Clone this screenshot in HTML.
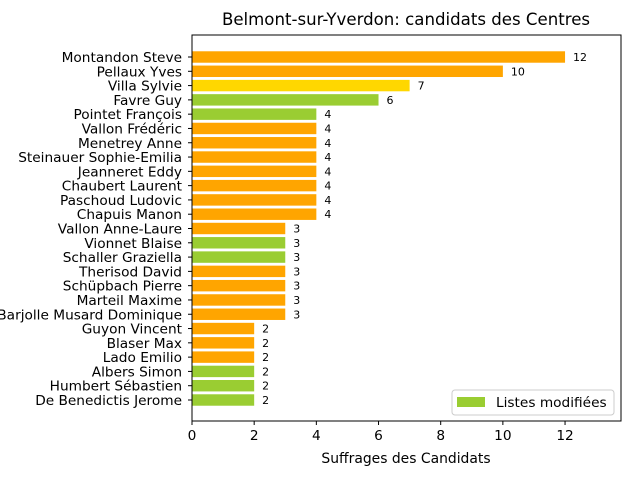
<!DOCTYPE html>
<html><head><meta charset="utf-8"><style>body{margin:0;background:#fff}svg{font-family:"DejaVu Sans","Liberation Sans",sans-serif}</style></head>
<body>
<svg id="c" width="640" height="480" xmlns="http://www.w3.org/2000/svg"></svg>
<script>
const names=["Montandon Steve","Pellaux Yves","Villa Sylvie","Favre Guy","Pointet François","Vallon Frédéric","Menetrey Anne","Steinauer Sophie-Emilia","Jeanneret Eddy","Chaubert Laurent","Paschoud Ludovic","Chapuis Manon","Vallon Anne-Laure","Vionnet Blaise","Schaller Graziella","Therisod David","Schüpbach Pierre","Marteil Maxime","Barjolle Musard Dominique","Guyon Vincent","Blaser Max","Lado Emilio","Albers Simon","Humbert Sébastien","De Benedictis Jerome"];
const votes=[12,10,7,6,4,4,4,4,4,4,4,4,3,3,3,3,3,3,3,2,2,2,2,2,2];
const listType=["o","o","y","g","g","o","o","o","o","o","o","o","o","g","g","o","o","o","o","o","o","o","g","g","g"];
const xTicks=[0,2,4,6,8,10,12];
const colors={o:"#FFA500",y:"#FFD700",g:"#9ACD32"};
const L=192,R=621,T=35,B=421,xmax=Math.max(...votes)*1.15;
const x=v=>L+v/xmax*(R-L);
const step=(B-T-43)/(names.length-1);
const y=i=>T+22+step*i;
const s=document.getElementById('c');const NS="http://www.w3.org/2000/svg";
function el(t,a,txt){const e=document.createElementNS(NS,t);for(const k in a)e.setAttribute(k,a[k]);if(txt!==undefined)e.textContent=txt;s.appendChild(e);return e;}
let t=el('text',{x:406,y:25,'text-anchor':'middle','font-size':16.6},'Belmont-sur-Yverdon: candidats des Centres');


const bh=step*0.8;
names.forEach((n,i)=>{
 const r=el('rect',{x:L,y:y(i)-bh/2,width:x(votes[i])-L,height:bh,fill:colors[listType[i]]});
 
 
 const lb=el('text',{x:L-10,y:y(i)+5,'text-anchor':'end','font-size':13.7},n);
 
 
 el('line',{x1:L-4,x2:L,y1:y(i),y2:y(i),stroke:'#000'});
 const v=el('text',{x:x(votes[i])+8,y:y(i)+4,'font-size':11},votes[i]);
 
 
});
xTicks.forEach(v=>{
 el('line',{x1:x(v),x2:x(v),y1:B,y2:B+4,stroke:'#000'});
 const tt=el('text',{x:x(v),y:B+19,'text-anchor':'middle','font-size':13.7},v);
 
 
});
const ax=el('rect',{x:L,y:T,width:R-L,height:B-T,fill:'none',stroke:'#000','stroke-width':1});


const xl=el('text',{x:406,y:463,'text-anchor':'middle','font-size':13.9},'Suffrages des Candidats');


const lg=el('rect',{x:452,y:390,width:162,height:25,fill:'#fff',stroke:'#ccc',rx:3});


el('rect',{x:457,y:397,width:28,height:10,fill:colors.g});
const lt=el('text',{x:496,y:407,'font-size':13.7},'Listes modifiées');


</script>
</body></html>
